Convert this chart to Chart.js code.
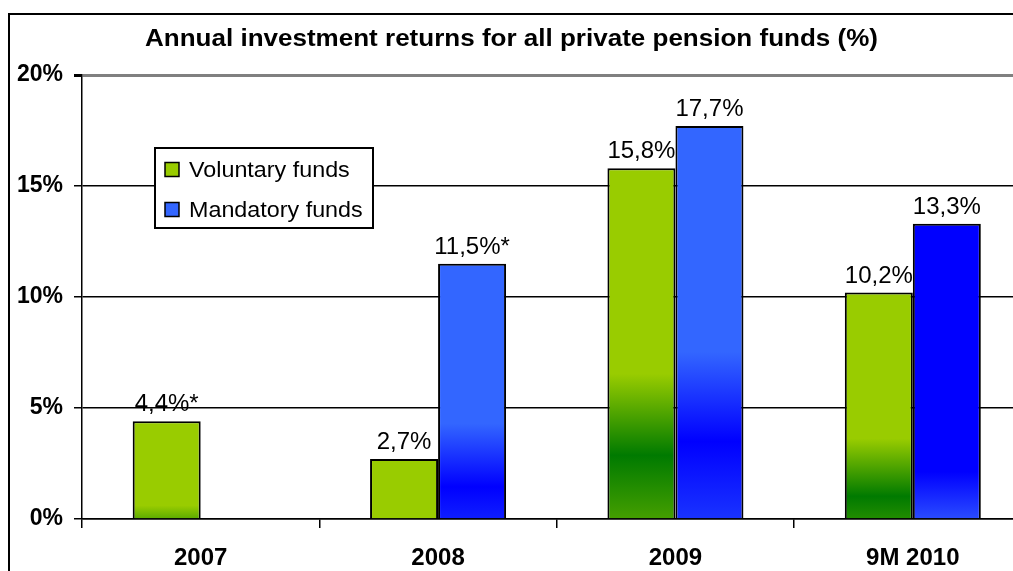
<!DOCTYPE html>
<html lang="en">
<head>
<meta charset="UTF-8">
<title>Annual investment returns</title>
<script src="https://cdn.jsdelivr.net/npm/chart.js"></script>
<style>
  html, body { margin: 0; padding: 0; background: #fff; overflow: hidden; }
  #wrap { width: 1060px; height: 571px; }
</style>
</head>
<body>
<div id="wrap"><canvas id="grafik" width="1060" height="571"></canvas></div>
<script>
  // data
  const categories = ['2007', '2008', '2009', '9M 2010'];
  const voluntaryFunds = [4.4, 2.7, 15.8, 10.2];
  const mandatoryFunds = [null, 11.5, 17.7, 13.3];
  const voluntaryNotes = ['*', '', '', ''];
  const mandatoryNotes = ['', '*', '', ''];
  const yTickValues = [0, 5, 10, 15, 20];

  const FONT = '"Liberation Sans", Arial, sans-serif';

  // excel style gradient, runs from a bit under the axis up to the bar top
  function barFill(light, dark, solidLast) {
    return function (c) {
      const chart = c.chart;
      const y = chart.scales && chart.scales.y;
      if (!chart.chartArea || !y || c.raw == null) return light;
      const top = y.getPixelForValue(c.raw);
      if (solidLast && c.dataIndex === categories.length - 1) {
        const base0 = y.getPixelForValue(0);
        const g2 = chart.ctx.createLinearGradient(0, base0, 0, top);
        g2.addColorStop(0, '#2a4cff');
        g2.addColorStop(0.16, '#0000ff');
        g2.addColorStop(1, '#0000ff');
        return g2;
      }
      const base = y.getPixelForValue(-3.5);
      const g = chart.ctx.createLinearGradient(0, base, 0, top);
      g.addColorStop(0, light);
      g.addColorStop(0.33, dark);
      g.addColorStop(0.52, light);
      g.addColorStop(1, light);
      return g;
    };
  }

  function fmt(v, note) {
    return v.toFixed(1).replace('.', ',') + '%' + note;
  }

  const rama = {
    id: 'rama',
    beforeDraw(chart) {
      const ctx = chart.ctx;
      ctx.save();
      ctx.fillStyle = '#fff';
      ctx.fillRect(0, 0, chart.width, chart.height);
      ctx.strokeStyle = '#000';
      ctx.lineWidth = 2;
      ctx.strokeRect(9, 14, chart.width + 20, chart.height + 20);
      ctx.restore();
    }
  };

  const titulli = {
    id: 'titulli',
    afterDraw(chart) {
      const ctx = chart.ctx;
      const text = 'Annual investment returns for all private pension funds (%)';
      ctx.save();
      ctx.font = 'bold 23px ' + FONT;
      const w = ctx.measureText(text).width;
      const sx = 733 / w;
      ctx.translate(511.5, 46);
      ctx.scale(sx, 1);
      ctx.fillStyle = '#000';
      ctx.textAlign = 'center';
      ctx.textBaseline = 'alphabetic';
      ctx.fillText(text, 0, 0);
      ctx.restore();
    }
  };

  const etiketat = {
    id: 'etiketat',
    afterDatasetsDraw(chart) {
      const ctx = chart.ctx;
      const notes = [voluntaryNotes, mandatoryNotes];
      ctx.save();
      ctx.font = '24px ' + FONT;
      ctx.fillStyle = '#000';
      ctx.textAlign = 'center';
      ctx.textBaseline = 'alphabetic';
      chart.data.datasets.forEach((ds, i) => {
        chart.getDatasetMeta(i).data.forEach((bar, j) => {
          const v = ds.data[j];
          if (v == null) return;
          ctx.fillText(fmt(v, notes[i][j]), bar.x, bar.y - 10);
        });
      });
      ctx.restore();
    }
  };

  const legjenda = {
    id: 'legjenda',
    afterDraw(chart) {
      const ctx = chart.ctx;
      const box = { x: 155, y: 148, w: 218, h: 80 };
      ctx.save();
      ctx.fillStyle = '#fff';
      ctx.fillRect(box.x, box.y, box.w, box.h);
      ctx.strokeStyle = '#000';
      ctx.lineWidth = 2;
      ctx.strokeRect(box.x, box.y, box.w, box.h);
      chart.data.datasets.forEach((ds, i) => {
        const cy = 169.5 + i * 40;
        ctx.fillStyle = ds.legendColor;
        ctx.fillRect(165, cy - 7, 14, 14);
        ctx.strokeStyle = '#000';
        ctx.lineWidth = 1.5;
        ctx.strokeRect(165, cy - 7, 14, 14);
        ctx.save();
        ctx.font = '22px ' + FONT;
        ctx.fillStyle = '#000';
        ctx.textBaseline = 'middle';
        ctx.translate(189, cy + 1);
        ctx.scale(1.06, 1);
        ctx.fillText(ds.label, 0, 0);
        ctx.restore();
      });
      ctx.restore();
    }
  };

  new Chart(document.getElementById('grafik').getContext('2d'), {
    type: 'bar',
    data: {
      labels: categories,
      datasets: [
        {
          label: 'Voluntary funds',
          data: voluntaryFunds,
          backgroundColor: barFill('#99cc00', '#007a00', false),
          legendColor: '#99cc00',
          borderColor: '#000',
          borderWidth: 2,
          categoryPercentage: 0.573,
          barPercentage: 1
        },
        {
          label: 'Mandatory funds',
          data: mandatoryFunds,
          backgroundColor: barFill('#3366ff', '#0000ff', true),
          legendColor: '#3366ff',
          borderColor: '#000',
          borderWidth: 2,
          categoryPercentage: 0.573,
          barPercentage: 1
        }
      ]
    },
    options: {
      responsive: false,
      animation: false,
      layout: { padding: { top: 75, left: 10, right: 28.5, bottom: 0 } },
      plugins: {
        legend: { display: false },
        title: { display: false },
        tooltip: { enabled: false }
      },
      scales: {
        x: {
          afterFit: s => { s.height = 52; },
          grid: {
            offset: true,
            drawOnChartArea: false,
            tickLength: 9,
            color: '#000',
            lineWidth: 1.5
          },
          border: { color: '#000', width: 1.5 },
          ticks: {
            color: '#000',
            padding: 16,
            font: { family: FONT, size: 24, weight: 'bold' }
          }
        },
        y: {
          min: 0,
          max: 20,
          afterFit: s => { s.width = 72; },
          afterBuildTicks: s => { s.ticks = yTickValues.map(v => ({ value: v })); },
          grid: {
            color: c => (c.tick && c.tick.value === 20 ? '#808080' : '#000'),
            lineWidth: c => (c.tick && c.tick.value === 20 ? 3 : 1.5),
            tickColor: '#000',
            tickLength: 8
          },
          border: { color: '#000', width: 1.5 },
          ticks: {
            color: '#000',
            padding: 11,
            font: { family: FONT, size: 23, weight: 'bold' },
            callback: v => v + '%'
          }
        }
      }
    },
    plugins: [rama, etiketat, titulli, legjenda]
  });
</script>
</body>
</html>
